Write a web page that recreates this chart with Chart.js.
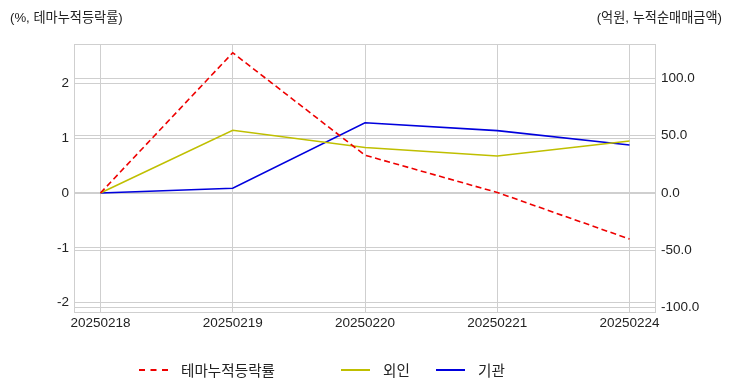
<!DOCTYPE html>
<html>
<head>
<meta charset="utf-8">
<script src="https://cdn.jsdelivr.net/npm/chart.js@4"></script>
<style>
    body { margin: 0; background: #fff; }
    #wrap { position: relative; width: 732px; height: 392px; }
    .hdr { position: absolute; top: 7px; font: 13.2px "Liberation Sans", "Noto Sans CJK KR", sans-serif; color: #222; }
    .leg { position: absolute; top: 359px; font: 14.6px "Liberation Sans", "Noto Sans CJK KR", sans-serif; color: #222; display: flex; align-items: center; }
    .leg i { display: inline-block; width: 29px; height: 0; margin-right: 13px; }
</style>
</head>
<body>
<div id="wrap">
    <canvas id="chart" width="732" height="392"></canvas>
    <div class="hdr" style="left:10px">(%, 테마누적등락률)</div>
    <div class="hdr" style="right:10px">(억원, 누적순매매금액)</div>
    <div id="legend"></div>
</div>
<script>
// Categories
const dates = ["20250218", "20250219", "20250220", "20250221", "20250224"];

// Series values
const themeReturn = [0, 2.56, 0.69, 0.01, -0.84];   // %, left axis
const foreignNet = [0, 54.7, 39.7, 32.3, 45.4];      // 억원, right axis
const instNet = [0, 4.1, 61.3, 54.4, 41.9];          // 억원, right axis

// Tick labels
const leftTicks = [-2, -1, 0, 1, 2];
const rightTicks = [-100, -50, 0, 50, 100];

const tickFont = { family: "'Liberation Sans', 'Noto Sans CJK KR', sans-serif", size: 13.5 };
const gridColor = "#cfcfcf";

function toPoints(values) {
    return values.map((v, i) => ({ x: i, y: v }));
}

const series = [
    { label: "테마누적등락률", data: themeReturn, color: "#ee0000", dash: [6, 3.5], axis: "y" },
    { label: "외인", data: foreignNet, color: "#bfbf00", dash: [], axis: "y1" },
    { label: "기관", data: instNet, color: "#0000dd", dash: [], axis: "y1" }
];

// Draw the plot frame on all four sides
const frame = {
    id: "frame",
    afterDraw(chart) {
        const a = chart.chartArea;
        const ctx = chart.ctx;
        ctx.save();
        ctx.strokeStyle = gridColor;
        ctx.lineWidth = 1;
        ctx.strokeRect(a.left + 0.5, a.top + 0.5, a.right - a.left - 1, a.bottom - a.top - 1);
        ctx.restore();
    }
};

new Chart(document.getElementById("chart"), {
    type: "line",
    data: {
        datasets: series.map(s => ({
            label: s.label,
            data: toPoints(s.data),
            borderColor: s.color,
            backgroundColor: s.color,
            borderDash: s.dash,
            borderWidth: 1.6,
            pointRadius: 0,
            tension: 0,
            yAxisID: s.axis
        }))
    },
    options: {
        responsive: false,
        animation: false,
        layout: { padding: { top: 44, left: 0, right: 0, bottom: 0 } },
        plugins: {
            legend: { display: false },
            tooltip: { enabled: false }
        },
        scales: {
            x: {
                type: "linear",
                min: -0.2,
                max: 4.2,
                afterFit(scale) { scale.height = 79; },
                afterBuildTicks(scale) { scale.ticks = dates.map((d, i) => ({ value: i })); },
                ticks: {
                    callback: v => dates[v],
                    font: tickFont,
                    color: "#222",
                    padding: 2,
                    maxRotation: 0
                },
                grid: { color: gridColor, drawTicks: false },
                border: { display: false }
            },
            y: {
                position: "left",
                min: -2.19,
                max: 2.72,
                afterFit(scale) { scale.width = 74; },
                afterBuildTicks(scale) { scale.ticks = leftTicks.map(v => ({ value: v })); },
                ticks: { font: tickFont, color: "#222", padding: 5 },
                grid: { color: gridColor, drawTicks: false },
                border: { display: false }
            },
            y1: {
                position: "right",
                min: -104.7,
                max: 130,
                afterFit(scale) { scale.width = 76; },
                afterBuildTicks(scale) { scale.ticks = rightTicks.map(v => ({ value: v })); },
                ticks: { font: tickFont, color: "#222", padding: 5, callback: v => v.toFixed(1) },
                grid: { color: gridColor, drawTicks: false },
                border: { display: false }
            }
        }
    },
    plugins: [frame]
});

// Legend below the plot
const legendLeft = [139, 341, 436];
const legend = document.getElementById("legend");
series.forEach((s, i) => {
    const item = document.createElement("div");
    item.className = "leg";
    item.style.left = legendLeft[i] + "px";
    const line = document.createElement("i");
    line.style.borderTop = s.dash.length ? "2px dashed " + s.color : "2px solid " + s.color;
    item.appendChild(line);
    item.appendChild(document.createTextNode(s.label));
    legend.appendChild(item);
});
</script>
</body>
</html>
